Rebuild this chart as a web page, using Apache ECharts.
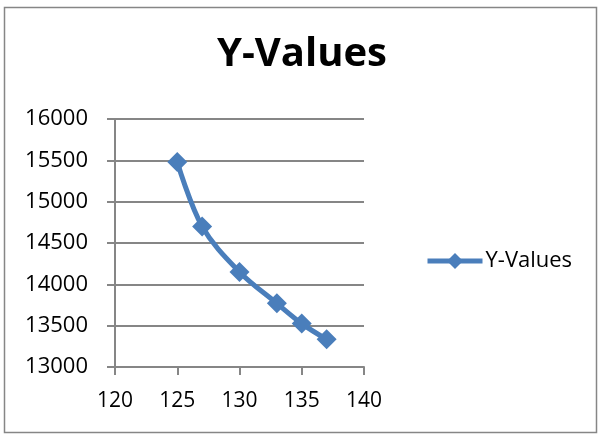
<!DOCTYPE html>
<html><head><meta charset="utf-8">
<script src="https://cdn.jsdelivr.net/npm/echarts@6/dist/echarts.min.js"></script>
<style>html,body{margin:0;padding:0;background:#fff}#c{width:599px;height:434px}</style>
</head><body><div id="c"></div>
<script>
const xValues = [125, 127, 130, 133, 135, 137];
const yValues = [15480, 14700, 14150, 13770, 13525, 13335];
const seriesName = 'Y-Values';
const titleText = 'Y-Values';

const chart = echarts.init(document.getElementById('c'), null, {renderer: 'canvas'});
const font = '"Open Sans", sans-serif';
chart.setOption({
  animation: false,
  backgroundColor: '#fff',
  title: {text: titleText, left: 217, top: 35, itemGap: 0, padding: 0,
    textStyle: {fontFamily: font, fontSize: 40, fontWeight: 'bold', color: '#000'}},
  legend: {data: [seriesName], left: 425, top: 250, padding: 0, itemWidth: 55, itemHeight: 20, itemGap: 3,
    lineStyle: {width: 5},
    textStyle: {fontFamily: font, fontSize: 22, color: '#000', padding: [0, 0, 0, -2]}},
  graphic: [{type: 'rect', shape: {x: 4.5, y: 7.5, width: 592, height: 425},
    style: {fill: null, stroke: '#868686', lineWidth: 1.5}, silent: true}],
  grid: {left: 115, top: 119, right: 235, bottom: 67},
  xAxis: {type: 'value', min: 120, max: 140, interval: 5,
    axisLine: {lineStyle: {color: '#868686', width: 2}},
    axisTick: {show: true, length: 8, lineStyle: {color: '#868686', width: 2}},
    axisLabel: {fontFamily: font, fontSize: 21, color: '#000', margin: 24},
    splitLine: {show: false}},
  yAxis: {type: 'value', min: 13000, max: 16000, interval: 500,
    axisLine: {show: true, lineStyle: {color: '#868686', width: 2}},
    axisTick: {show: true, length: 8, lineStyle: {color: '#868686', width: 2}},
    axisLabel: {fontFamily: font, fontSize: 22, color: '#000', margin: 27,
      formatter: v => String(v)},
    splitLine: {show: true, lineStyle: {color: '#868686', width: 2}}},
  series: [{name: seriesName, type: 'line', smooth: 0.35,
    data: xValues.map((x, i) => [x, yValues[i]]),
    symbol: 'diamond', symbolSize: 20,
    lineStyle: {color: '#4a7ebb', width: 5},
    itemStyle: {color: '#4a7ebb'}}]
});
</script></body></html>
